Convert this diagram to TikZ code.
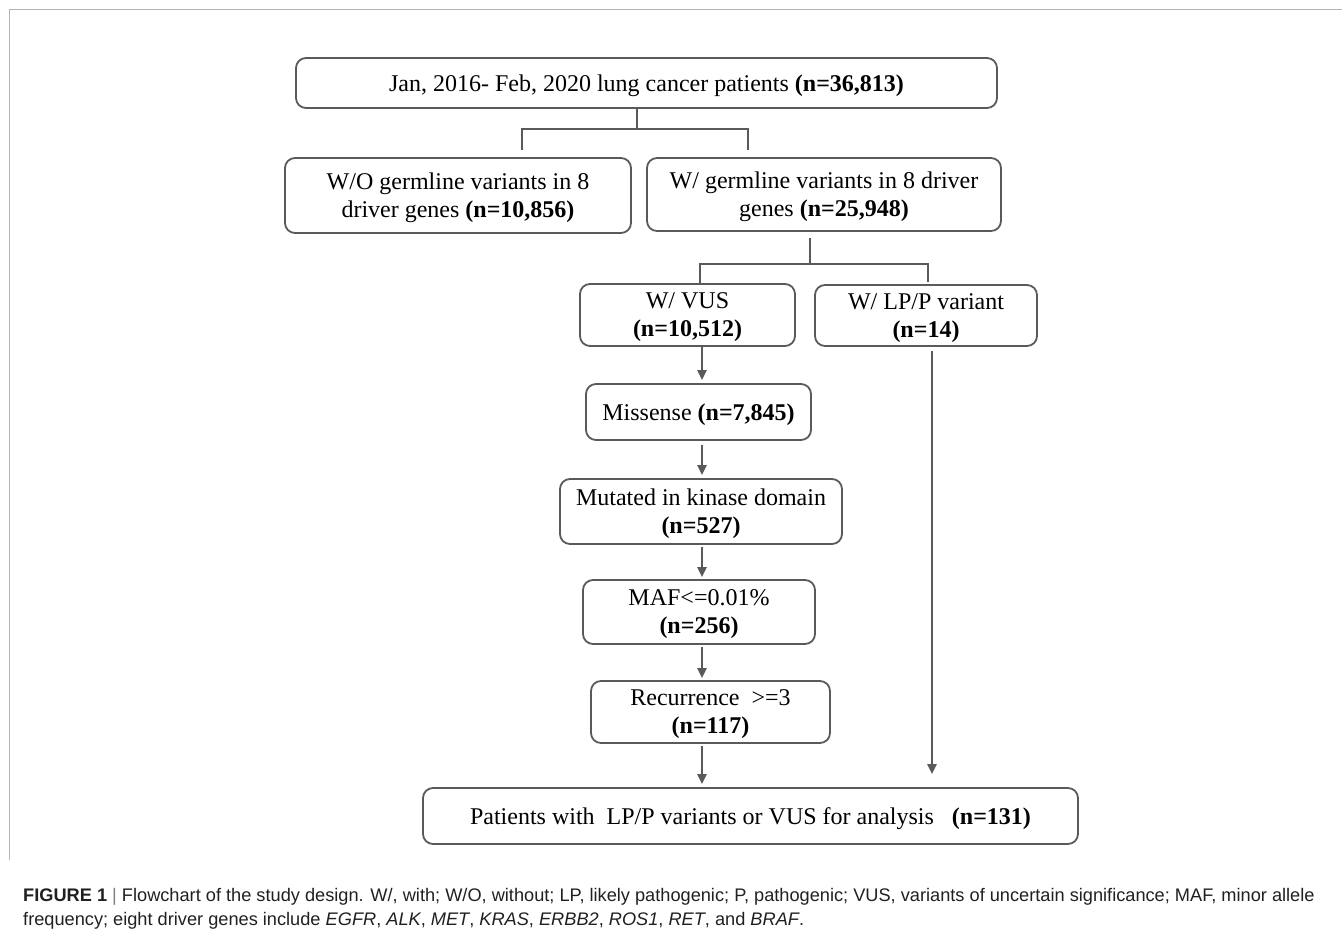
\documentclass[tikz,border=0pt]{standalone}
\usepackage{fontspec}
\setmainfont{Liberation Serif}
\newfontfamily\capfont{Liberation Sans}
\usetikzlibrary{arrows.meta,positioning,calc}
\definecolor{edge}{HTML}{5A5A5A}
\definecolor{frame}{HTML}{B4B4B4}
\definecolor{captxt}{HTML}{231F20}

\begin{document}
\begin{tikzpicture}[
    x=1pt, y=-1pt,
    every node/.style={font=\fontsize{24}{28}\selectfont, align=center},
    box/.style 2 args={draw=edge, line width=1.8pt, rounded corners=10pt, inner sep=0pt,
                       text depth=0pt, minimum width=#1, minimum height=#2},
    link/.style={edge, line width=2.8pt},
    arr/.style={link, -{Triangle[length=10pt,width=9pt]}},
    captext/.style={font=\capfont\fontsize{18.2}{24}\selectfont, text=captxt, align=left, anchor=west, inner sep=0pt},
  ]
  \useasboundingbox (0,0) rectangle (1342,934);
  % open frame round the figure
  \draw[frame, line width=1pt] (1342,10) -- (9,10) -- (9,860);

  \node[box={701pt}{50pt}] (all) at (646.5,83) {Jan, 2016- Feb, 2020 lung cancer patients \textbf{(n=36,813)}};

  \node[box={346pt}{75pt}] (wo) at (458,195.5) {W/O germline variants in 8\\driver genes \textbf{(n=10,856)}};
  \node[box={354pt}{73pt}] (with) at (824,194.5) {W/ germline variants in 8 driver\\genes \textbf{(n=25,948)}};

  \node[box={215pt}{62pt}] (vus) at (687.5,315) {W/ VUS\\\textbf{(n=10,512)}};
  \node[box={222pt}{61pt}] (lpp) at (926,315.5) {W/ LP/P variant\\\textbf{(n=14)}};

  \node[box={225pt}{56pt}] (mis) at (698.5,412) {Missense \textbf{(n=7,845)}};
  \node[box={282pt}{65pt}] (kin) at (701,511.5) {Mutated in kinase domain\\\textbf{(n=527)}};
  \node[box={232pt}{64pt}] (maf) at (699,612) {MAF\textless=0.01\%\\\textbf{(n=256)}};
  \node[box={239pt}{62pt}] (rec) at (710.5,712) {Recurrence \ \textgreater=3\\\textbf{(n=117)}};

  \node[box={655pt}{56pt}] (fin) at (750.5,816) {Patients with \ LP/P variants or VUS for analysis \ \ \textbf{(n=131)}};

  \coordinate (spine) at (702,0);
  \coordinate (side) at (932,0);

  % first split
  \draw[link] ([xshift=-9.5pt]all.south) -- ++(0,20) coordinate (j1);
  \draw[link] ([xshift=64pt,yshift=7pt]wo.north) |- (j1) -| ([xshift=-76pt,yshift=7pt]with.north);
  % second split
  \draw[link] ([xshift=-14pt,yshift=-6pt]with.south) -- ++(0,26) coordinate (j2);
  \draw[link] ([xshift=12.5pt]vus.north) |- (j2) -| ([xshift=2pt,yshift=2pt]lpp.north);

  \draw[arr, shorten >=3pt] (vus.south -| spine) -- (mis.north -| spine);
  \draw[arr, shorten <=4pt, shorten >=3pt] (mis.south -| spine) -- (kin.north -| spine);
  \draw[arr, shorten <=2pt, shorten >=2pt] (kin.south -| spine) -- (maf.north -| spine);
  \draw[arr, shorten <=2pt, shorten >=2pt] (maf.south -| spine) -- (rec.north -| spine);
  \draw[arr, shorten <=2pt, shorten >=3pt] (rec.south -| spine) -- (fin.north -| spine);
  \draw[arr, shorten <=4pt, shorten >=13pt] (lpp.south -| side) -- (fin.north -| side);

  \node[captext] (caption) at (23,909) {\textbf{FIGURE 1} {\color{gray}|} Flowchart of the study design. W/, with; W/O, without; LP, likely pathogenic; P, pathogenic; VUS, variants of uncertain significance; MAF, minor allele\\frequency; eight driver genes include \textit{EGFR}, \textit{ALK}, \textit{MET}, \textit{KRAS}, \textit{ERBB2}, \textit{ROS1}, \textit{RET}, and \textit{BRAF}.};
\end{tikzpicture}
\end{document}
